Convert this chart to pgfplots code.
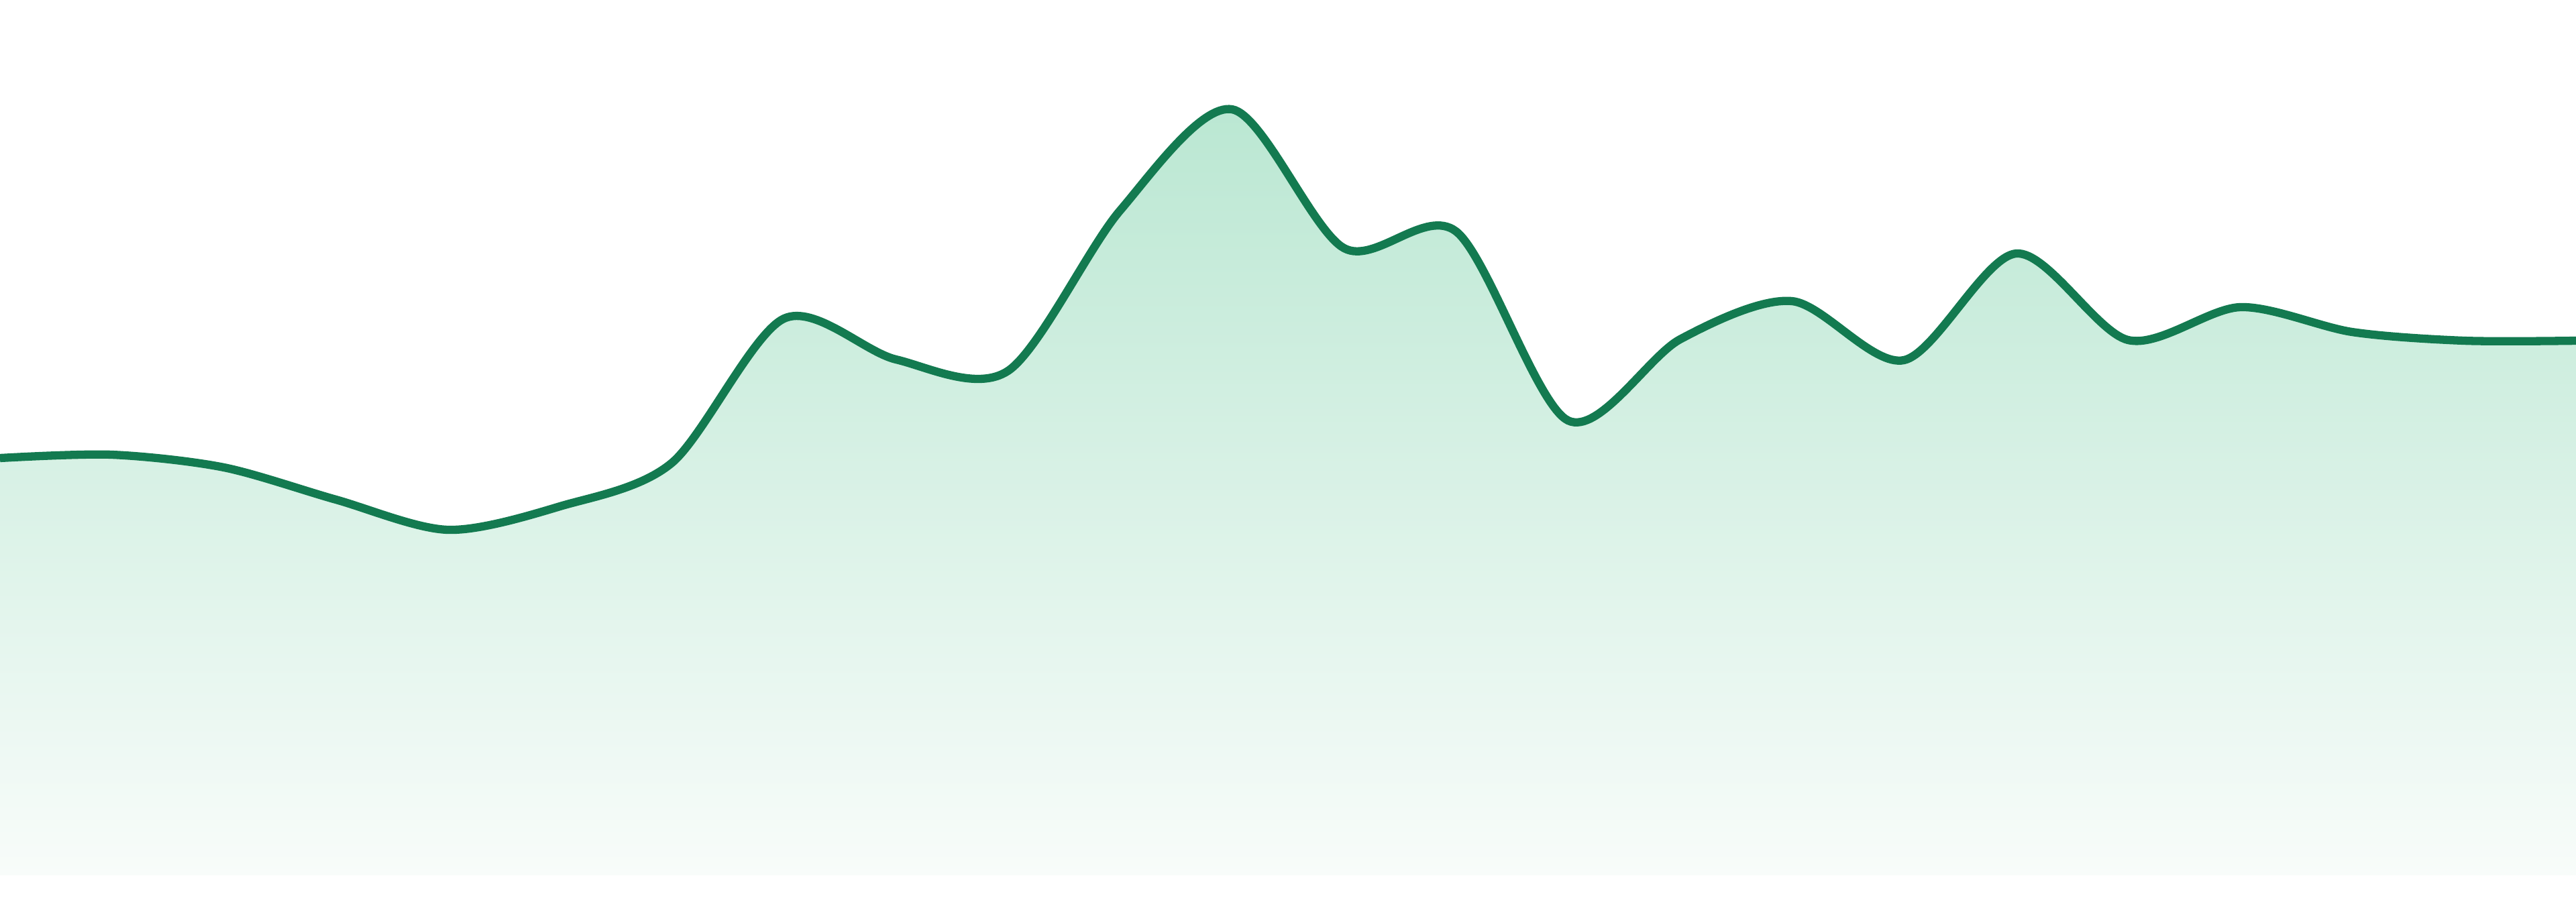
\documentclass[border=0pt]{standalone}
\usepackage{pgfplots}
\usepackage{pgfplotstable}
\pgfplotsset{compat=1.18}

\definecolor{LineGreen}{RGB}{19,122,80}
\definecolor{FillTop}{RGB}{186,231,210}
\definecolor{FillBottom}{RGB}{248,252,250}

\pgfplotstableread{
x v
0 622
1 627
2 608
3 560
4 515
5 550
6 615
7 830
8 769
9 752
10 991
11 1142
12 935
13 960
14 678
15 799
16 856
17 768
18 927
19 798
20 847
21 810
22 797
23 797
}\series

\begin{document}
\begin{tikzpicture}
  \begin{axis}[
      scale only axis,
      width=384pt,
      height=134.4pt,
      xmin=0, xmax=23,
      ymin=-39, ymax=1305,
      axis line style={draw=none},
      xtick=\empty, ytick=\empty,
      clip=true,
    ]
    \addplot[draw=none, smooth, tension=0.5,
      shade, top color=FillTop, bottom color=FillBottom]
      table[x=x, y=v] {\series} \closedcycle;
    \addplot[LineGreen, line width=1.23pt, smooth, tension=0.5, no marks]
      table[x=x, y=v] {\series};
  \end{axis}
\end{tikzpicture}
\end{document}
